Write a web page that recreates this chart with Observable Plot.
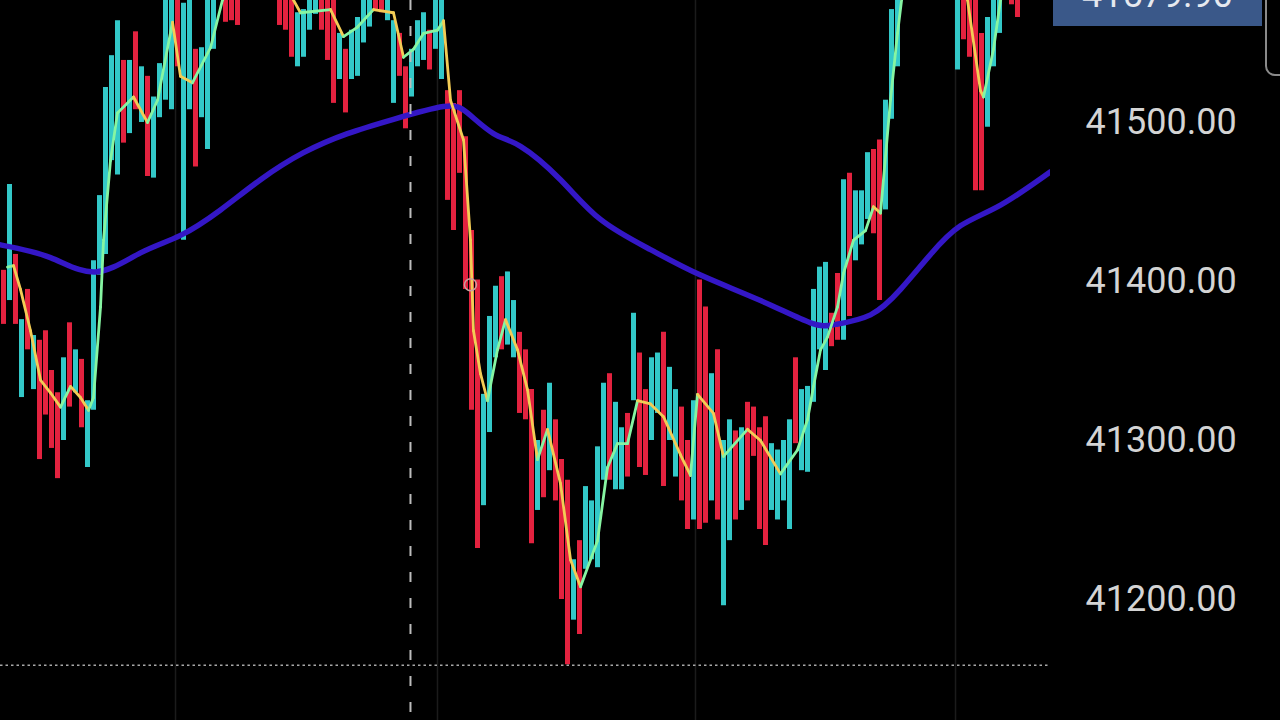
<!DOCTYPE html>
<html><head><meta charset="utf-8">
<script src="https://cdn.jsdelivr.net/npm/d3@7"></script>
<script src="https://cdn.jsdelivr.net/npm/@observablehq/plot@0.6"></script>
<style>
html,body{margin:0;padding:0;background:#000;overflow:hidden;}
#wrap{position:relative;width:1280px;height:720px;overflow:hidden;background:#000;}
#wrap svg{display:block;}
.pricebox{position:absolute;left:1053px;width:209px;height:62px;background:#3a5889;color:#e6e9ef;font:36px Roboto,sans-serif;display:flex;align-items:center;justify-content:center;}
.edge{position:absolute;left:1265px;top:-20px;width:40px;height:92px;border:2px solid #8a8a8a;border-radius:10px;}
</style></head><body><div id="wrap"></div>
<script>
// candle highs / lows (price), one per minute slot
const highs=[41407,41461,41417,41376,41395,41366,41363,41369,41344,41330,
41352,41374,41357,41351,41325,41413,41454,41522,41542,41564,
41539,41539,41557,41535,41529,41516,41537,41577,41583,41590,
41575,41586,41546,41547,41583,41596,41608,41602,41596,41602,
41615,41621,41618,41627,41621,41615,41602,41596,41590,41569,
41571,41590,41596,41593,41583,41577,41556,41546,41558,41566,
41583,41590,41596,41593,41590,41564,41556,41535,41546,41564,
41569,41558,41577,41583,41520,41512,41520,41491,41432,41401,
41329,41378,41397,41403,41406,41388,41368,41357,41332,41300,
41319,41336,41313,41288,41275,41225,41237,41271,41262,41296,
41336,41342,41324,41308,41317,41380,41355,41332,41352,41355,
41368,41346,41332,41321,41300,41325,41401,41384,41342,41357,
41300,41313,41306,41308,41324,41321,41308,41315,41298,41294,
41300,41313,41352,41332,41334,41395,41409,41412,41380,41405,
41464,41468,41457,41457,41481,41483,41489,41514,41571,41590,
41615,41634,41640,41646,41640,41634,41627,41621,41608,41577,
41596,41577,41577,41556,41566,41577,41590,41602,41602,41590,
41615,41627,41621,41624,41615];
const lows=[41373,41388,41373,41327,41357,41332,41288,41316,41295,41276,
41300,41321,41330,41308,41283,41319,41404,41417,41476,41467,
41487,41493,41508,41500,41466,41465,41503,41514,41508,41535,
41426,41508,41472,41503,41483,41546,41580,41563,41564,41561,
41583,41590,41586,41593,41590,41580,41561,41558,41541,41535,
41541,41558,41568,41558,41539,41512,41527,41506,41527,41529,
41550,41560,41571,41569,41564,41512,41529,41496,41516,41535,
41539,41533,41546,41527,41451,41432,41468,41395,41319,41232,
41259,41305,41352,41357,41360,41352,41317,41313,41235,41256,
41264,41281,41262,41200,41159,41187,41178,41219,41225,41220,
41275,41275,41269,41269,41277,41325,41283,41278,41300,41317,
41271,41300,41277,41262,41244,41250,41244,41248,41262,41250,
41196,41237,41250,41256,41262,41290,41244,41234,41256,41250,
41262,41244,41298,41281,41280,41324,41357,41344,41359,41363,
41363,41378,41413,41423,41439,41430,41388,41445,41502,41535,
41577,41596,41602,41608,41602,41596,41593,41586,41580,41533,
41552,41541,41457,41457,41497,41535,41556,41577,41574,41566,
41580,41590,41586,41583,41580];
const dirs="dudududddd"+"ududuuuuuu"+"dududuuuud"+"uuduuuuddd"+"uududddddu"+
"uuuddduduu"+"uudduudduu"+"uduudddddd"+"uuuduudddu"+"duddduduuu"+
"uduududduu"+"duudduddud"+"uududdddu u".replace(" ","")+"uuduuuuudd"+"uduuudduuu"+
"uududduduu"+"dddduuuudd"+"uuduu";

// short moving average (yellow), sampled
const maFastIdx=[0.67,1.67,2.83,4.5,6.17,7.83,9.5,11.17,12.83,14.17,15,16.17,16.67,17.83,19,21.67,24,25.67,28.17,29.5,31.5,34.5,36.5,39.5,43.7,47,49.5,54.5,56.67,59,61.67,65,66.67,68.33,70,72.33,73.33,74.5,76.67,77.83,78.33,79.5,80.67,82.33,83.67,85.67,87.33,89,90.67,92.83,94.5,96.17,99,100.67,102.33,104,105.67,107.83,110,112.83,114.5,115.67,118.33,120,124,126.17,129.5,132.33,134,135,136.17,137.33,139,140,141.67,143.67,145,146.17,147.83,149,150.3,154.5,158.7,160.67,162.83,163.33,165,166.17,169.5,174];
const maFastVal=[41409,41410,41395,41369,41338,41330,41321,41334,41327,41319,41327,41384,41426,41476,41506,41516,41500,41514,41563,41529,41525,41547,41577,41596,41602,41586,41569,41571,41554,41560,41571,41569,41541,41546,41556,41558,41564,41514,41489,41426,41369,41342,41325,41357,41376,41357,41332,41288,41307,41273,41225,41208,41237,41283,41298,41298,41325,41323,41315,41291,41278,41329,41317,41290,41307,41300,41279,41294,41313,41334,41357,41365,41384,41405,41426,41432,41447,41443,41514,41556,41596,41615,41596,41577,41520,41516,41546,41577,41596,41602];

// long moving average (blue), sampled
const maSlowIdx=[-0.5,7.83,15.33,22.83,29.5,36.17,42.83,50,57.33,65,73.33,77.33,81.67,86.17,92.83,99.5,107.83,116.17,126.17,134.5,138.67,144.5,149.5,154.5,159.5,166.17,174.5];
const maSlowVal=[41423,41415,41406,41418,41429,41445,41464,41481,41493,41502,41510,41506,41493,41485,41464,41439,41420,41404,41388,41374,41373,41379,41395,41417,41435,41448,41469];

const gridIdx=[28.67,72.33,115.33,158.67];
const yTicks=[41200,41300,41400,41500];
const lastPrice=41579.90;
const crossIdx=67.83, crossPrice=41158.7;
const markerIdx=77.83, markerPrice=41398;

const candles=highs.map((h,i)=>({i,hi:h,lo:lows[i],up:dirs[i]==="u"}));
const fast=maFastIdx.map((x,k)=>({x,y:maFastVal[k]}));
const fastSeg=fast.slice(1).map((d,k)=>({x1:fast[k].x,y1:fast[k].y,x2:d.x,y2:d.y,up:d.y>=fast[k].y}));
const slow=maSlowIdx.map((x,k)=>({x,y:maSlowVal[k]}));

const fmt=d3.format(".2f");
const plot=Plot.plot({
  width:1280,height:720,marginLeft:0,marginRight:230,marginTop:0,marginBottom:0,
  style:{background:"#000",color:"#d4d4d4",fontFamily:"Roboto, sans-serif",fontSize:"36px"},
  x:{domain:[-0.5,174.5],axis:null},
  y:{domain:[41123.9,41576.7],axis:"right",ticks:yTicks,tickSize:0,tickPadding:35,tickFormat:fmt,label:null},
  marks:[
    Plot.ruleX(gridIdx,{stroke:"#1b1b1b",strokeWidth:1.5}),
    Plot.ruleX(candles,{x:"i",y1:"lo",y2:"hi",stroke:d=>d.up?"#33c8c8":"#e3223f",strokeWidth:5,clip:true}),
    Plot.line(slow,{x:"x",y:"y",curve:"natural",stroke:"#3417c6",strokeWidth:5.5,clip:true}),
    Plot.link(fastSeg,{x1:"x1",y1:"y1",x2:"x2",y2:"y2",stroke:d=>d.up?"#86f5a2":"#f3cc55",strokeWidth:2.8,strokeLinecap:"round",clip:true}),
    Plot.ruleX([crossIdx],{stroke:"#bcbcbc",strokeWidth:2,strokeDasharray:"10,16"}),
    Plot.ruleY([crossPrice],{stroke:"#a8a8a8",strokeWidth:1.5,strokeDasharray:"2.5,3"}),
    Plot.dot([{x:markerIdx,y:markerPrice}],{x:"x",y:"y",r:6,stroke:"#c8a0a0",fill:"none",strokeWidth:1.5})
  ]
});
const wrap=document.getElementById("wrap");
wrap.appendChild(plot);
const yLast=plot.scale("y").apply(lastPrice);
const box=document.createElement("div");
box.className="pricebox";
box.style.top=(yLast-31)+"px";
box.textContent=fmt(lastPrice);
wrap.appendChild(box);
const edge=document.createElement("div");
edge.className="edge";
wrap.appendChild(edge);
</script></body></html>
